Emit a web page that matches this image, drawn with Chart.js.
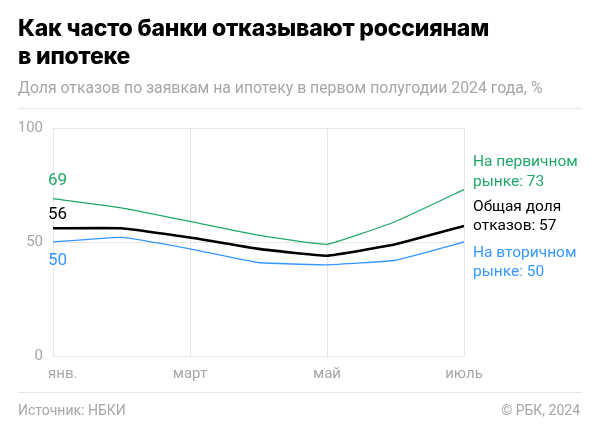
<!DOCTYPE html>
<html>
<head>
<meta charset="utf-8">
<script src="https://cdn.jsdelivr.net/npm/chart.js@4.4.1/dist/chart.umd.min.js"></script>
<style>
  html, body { margin: 0; padding: 0; background: #fff; }
  body { width: 600px; height: 435px; position: relative; overflow: hidden; font-family: Roboto, "Noto Sans", sans-serif; }
  #wrap { position: absolute; left: 0; top: 0; width: 600px; height: 435px; }
  .title { position: absolute; left: 18px; top: 14px; width: 570px; font-family: Inter, Roboto, sans-serif; font-weight: 800; font-size: 23px; line-height: 28px; color: #000; letter-spacing: -0.2px; }
  .sub { position: absolute; left: 18px; top: 78px; font-size: 15.8px; color: #a6a6a6; }
  .rule { position: absolute; left: 18px; right: 18px; height: 1px; background: #e6e6e6; }
  .src { position: absolute; left: 18px; top: 402px; font-size: 14px; color: #a6a6a6; }
  .copy { position: absolute; right: 20px; top: 402px; font-size: 14px; color: #a6a6a6; }
</style>
</head>
<body>
<div id="wrap"><canvas id="chart1"></canvas></div>
<div class="title">Как часто банки отказывают россиянам<br>в ипотеке</div>
<div class="sub">Доля отказов по заявкам на ипотеку в первом полугодии 2024 года, %</div>
<div class="rule" style="top:108px"></div>
<div class="rule" style="top:392px"></div>
<div class="src">Источник: НБКИ</div>
<div class="copy">© РБК, 2024</div>
<script>
const months = ["янв.", "февр.", "март", "апр.", "май", "июнь", "июль"];
const shownMonths = ["янв.", "март", "май", "июль"];
const primary = [69, 65, 59, 53, 49, 59, 73];
const total = [56, 56, 52, 47, 44, 49, 57];
const secondary = [50, 52, 47, 41, 40, 42, 50];
const yTicks = [0, 50, 100];

const GREEN = "#1fa869";
const BLUE = "#3597ff";
const GREY = "#a6a6a6";
const GRID = "#e6e6e6";

// labels at line starts and ends, plus the month captions
const labelsPlugin = {
  id: "labels",
  afterDraw(chart) {
    const c = chart.ctx;
    const x = chart.scales.x;
    c.save();
    c.font = "15px Roboto";
    c.fillStyle = GREY;
    c.textBaseline = "middle";
    months.forEach((m, i) => {
      if (!shownMonths.includes(m)) return;
      c.textAlign = i === 0 ? "left" : "center";
      const px = x.getPixelForValue(i);
      c.fillText(m, i === 0 ? px - 5 : px, 374);
    });

    const sets = [
      { idx: 0, color: GREEN, start: -18, endLines: ["На первичном", "рынке: " + primary[6]], endOff: -27 },
      { idx: 1, color: "#000", start: -14, endLines: ["Общая доля", "отказов: " + total[6]], endOff: -19 },
      { idx: 2, color: BLUE, start: 19, endLines: ["На вторичном", "рынке: " + secondary[6]], endOff: 11 },
    ];
    sets.forEach(s => {
      const pts = chart.getDatasetMeta(s.idx).data;
      const first = pts[0], last = pts[pts.length - 1];
      c.fillStyle = s.color;
      c.textAlign = "left";
      c.font = "17px Roboto";
      c.fillText(String(chart.data.datasets[s.idx].data[0]), first.x - 5, first.y + s.start);
      c.font = "15.5px Roboto";
      s.endLines.forEach((t, k) => c.fillText(t, last.x + 9, last.y + s.endOff + k * 19.5));
    });
    c.restore();
  }
};

const ctx = document.getElementById("chart1");
new Chart(ctx, {
  type: "line",
  data: {
    labels: months,
    datasets: [
      { data: primary, borderColor: GREEN, borderWidth: 1.3 },
      { data: total, borderColor: "#000", borderWidth: 2.6 },
      { data: secondary, borderColor: BLUE, borderWidth: 1.3 },
    ],
  },
  options: {
    responsive: true,
    maintainAspectRatio: false,
    animation: false,
    events: [],
    layout: { padding: { left: 0, right: 136, top: 128, bottom: 0 } },
    elements: { point: { radius: 0 }, line: { tension: 0.1, fill: false } },
    plugins: { legend: { display: false }, tooltip: { enabled: false } },
    scales: {
      x: {
        offset: false,
        afterFit(s) { s.height = 79; },
        grid: {
          color: c => (c.index % 2 === 0 ? GRID : "rgba(0,0,0,0)"),
          drawTicks: false,
        },
        border: { color: GRID },
        ticks: { display: false },
      },
      y: {
        min: 0,
        max: 100,
        afterFit(s) { s.width = 53; },
        afterBuildTicks(s) { s.ticks = yTicks.map(v => ({ value: v })); },
        grid: { color: GRID, drawTicks: false },
        border: { color: GRID },
        ticks: { color: GREY, font: { size: 15, family: "Roboto" }, padding: 10 },
      },
    },
  },
  plugins: [labelsPlugin],
});
</script>
</body>
</html>
